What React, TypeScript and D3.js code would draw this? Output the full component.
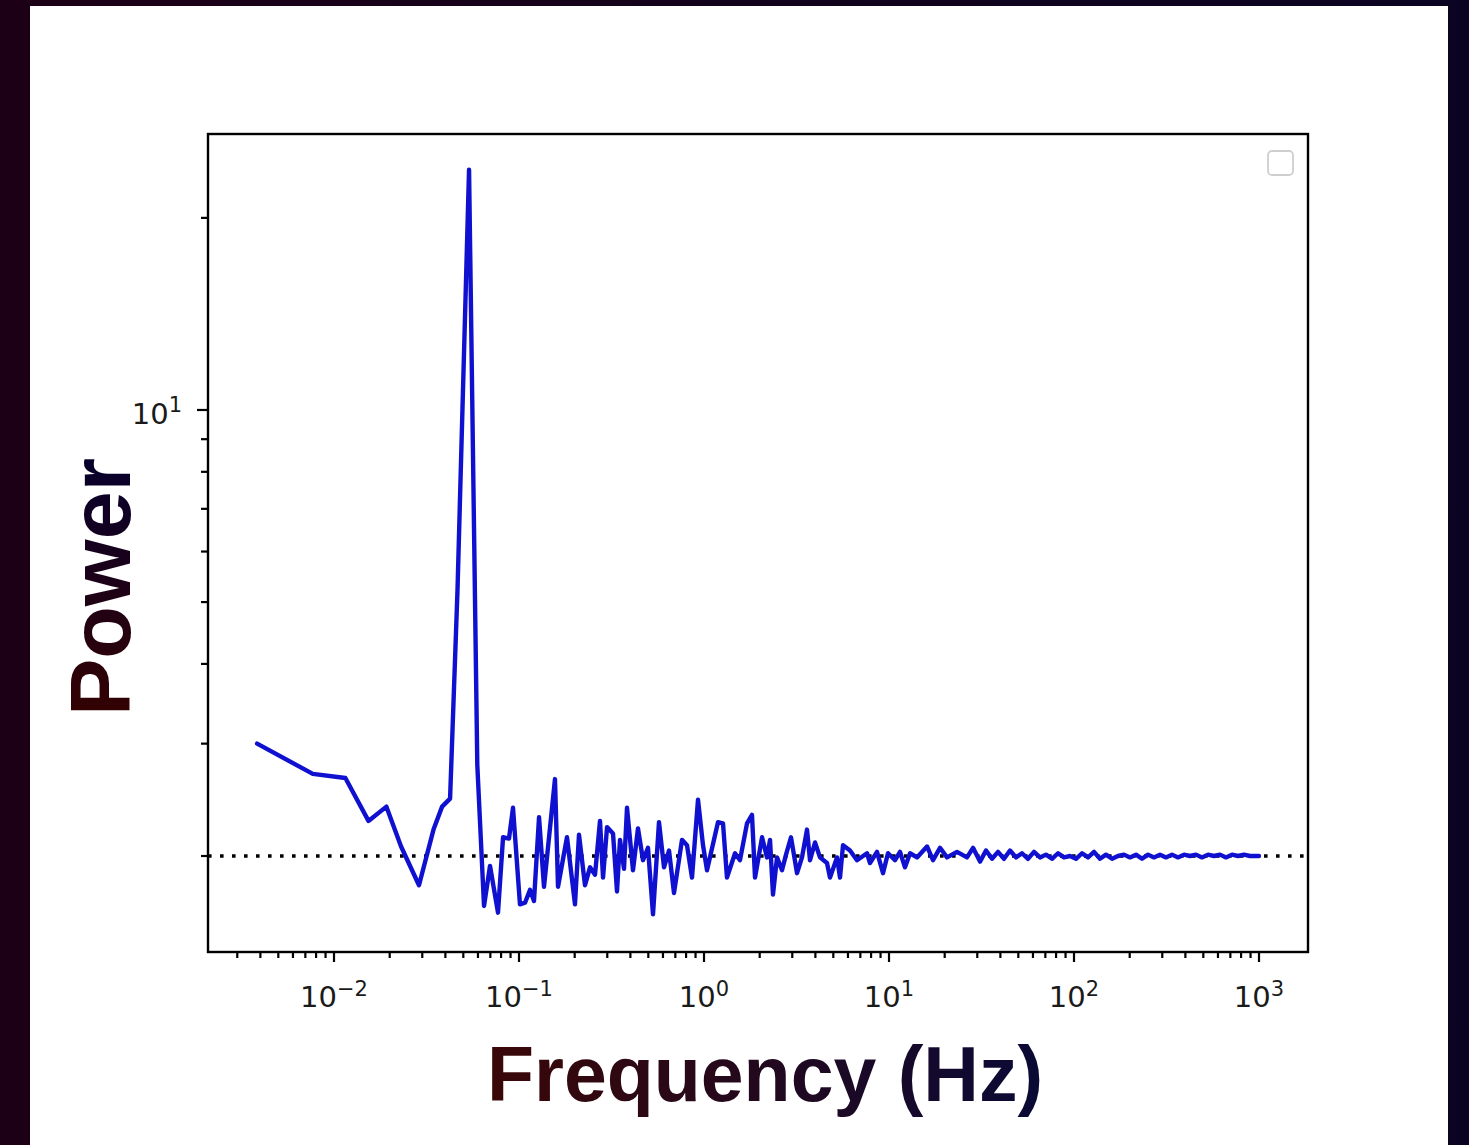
import React from "react";
import * as d3 from "d3";

// Frequencies (Hz) of the plotted power spectrum
const frequencyHz = [
  0.00384, 0.00768, 0.01152, 0.01536, 0.0192, 0.02304, 0.0288, 0.0345, 0.0384, 0.0424,
  0.0465, 0.0537, 0.0595, 0.0647, 0.0697, 0.077, 0.082, 0.0883, 0.0928, 0.1012,
  0.1078, 0.1147, 0.1205, 0.1283, 0.1365, 0.1565, 0.1625, 0.1817, 0.2007, 0.211,
  0.2274, 0.242, 0.2576, 0.274, 0.2846, 0.2991, 0.3222, 0.3386, 0.3515, 0.3694,
  0.3835, 0.4132, 0.4397, 0.468, 0.4981, 0.53, 0.5711, 0.6078, 0.6469, 0.6884,
  0.7604, 0.8092, 0.8612, 0.9281, 0.9876, 1.038, 1.19, 1.267, 1.331, 1.471,
  1.565, 1.708, 1.817, 1.887, 2.059, 2.191, 2.274, 2.36, 2.481, 2.64,
  2.775, 2.953, 3.183, 3.386, 3.604, 3.741, 3.981, 4.236, 4.622, 4.798,
  5.236, 5.435, 5.641, 6.155, 6.714, 7.604, 7.893, 8.612, 9.281, 9.876,
  10.78, 11.47, 12.2, 12.99, 14.17, 16.05, 17.29, 18.87, 20.59, 23.31,
  26.4, 28.46, 31.04, 33.44, 36.05, 38.84, 41.84, 45.1, 48.59, 52.36,
  56.41, 60.78, 65.49, 70.56, 76.04, 81.95, 88.3, 95.15, 102.5, 110.5,
  119.1, 128.3, 138.2, 148.9, 160.5, 172.9, 186.3, 200.7, 216.3, 233.1,
  251.2, 270.6, 291.6, 314.3, 338.6, 364.9, 393.2, 423.6, 456.5, 491.8,
  530.0, 571.1, 615.4, 663.1, 714.5, 769.9, 829.6, 894.0, 1000,
];

// Power at each frequency
const power = [
  3.0, 2.69, 2.65, 2.27, 2.39, 2.07, 1.8, 2.2, 2.39, 2.46,
  5.21, 23.8, 2.78, 1.67, 1.93, 1.63, 2.14, 2.13, 2.38, 1.68,
  1.69, 1.77, 1.7, 2.3, 1.79, 2.64, 1.79, 2.14, 1.68, 2.16,
  1.8, 1.92, 1.87, 2.27, 1.85, 2.22, 2.17, 1.76, 2.12, 1.91,
  2.38, 1.9, 2.21, 1.97, 2.06, 1.62, 2.26, 1.92, 2.04, 1.75,
  2.12, 2.08, 1.85, 2.45, 2.08, 1.9, 2.26, 2.25, 1.85, 2.02,
  1.97, 2.25, 2.32, 1.85, 2.14, 1.99, 2.12, 1.74, 1.99, 1.9,
  2.01, 2.14, 1.88, 1.99, 2.2, 1.97, 2.1, 1.99, 1.95, 1.85,
  1.99, 1.85, 2.08, 2.04, 1.97, 2.02, 1.95, 2.03, 1.88, 2.02,
  1.97, 2.03, 1.92, 2.02, 1.99, 2.07, 1.97, 2.06, 1.99, 2.03,
  1.99, 2.06, 1.96, 2.04, 1.98, 2.03, 1.98, 2.04, 1.99, 2.02,
  1.98, 2.03, 1.99, 2.01, 1.98, 2.02, 1.99, 2.0, 1.98, 2.02,
  1.99, 2.03, 1.98, 2.01, 1.98, 2.0, 2.01, 1.99, 2.01, 1.98,
  2.01, 1.99, 2.01, 1.99, 2.01, 1.99, 2.01, 2.0, 2.01, 1.99,
  2.01, 2.0, 2.01, 1.99, 2.01, 2.0, 2.01, 2.0, 2.0,
];

const meanPower = 2; // dotted reference level
const xMajorExponents = [-2, -1, 0, 1, 2, 3];
const yMajorExponents = [1];
const xLabel = "Frequency (Hz)";
const yLabel = "Power";

const W = 1469;
const H = 1145;

export default function App() {
  const plot = { left: 208, right: 1308, top: 134, bottom: 952 };
  const x = d3.scaleLog().domain([0.002084, 1840]).range([plot.left, plot.right]);
  const y = d3.scaleLog().domain([1.4145, 27.07]).range([plot.bottom, plot.top]);

  const data = frequencyHz.map((f, i) => ({ f, p: power[i] }));
  const line = d3
    .line<{ f: number; p: number }>()
    .x((d) => x(d.f))
    .y((d) => y(d.p));

  const isMajor = (v: number) => Math.abs(Math.log10(v) - Math.round(Math.log10(v))) < 1e-9;
  const xTicks = x.ticks().filter((v) => v >= x.domain()[0] && v <= x.domain()[1]);
  const yTicks = y.ticks().filter((v) => v >= y.domain()[0] && v <= y.domain()[1]);

  const tickFont = "'DejaVu Sans', sans-serif";

  return (
    <div style={{ width: W, height: H, overflow: "hidden" }}>
      <style>{"body{margin:0;overflow:hidden}"}</style>
      <svg width={W} height={H} style={{ display: "block" }}>
        <defs>
          <linearGradient id="bg" x1="0" y1="0" x2="1" y2="0">
            <stop offset="0" stopColor="#1c0016" />
            <stop offset="1" stopColor="#0a0422" />
          </linearGradient>
          <linearGradient id="xlab" gradientUnits="userSpaceOnUse" x1="488" y1="0" x2="1043" y2="0">
            <stop offset="0" stopColor="#3a0707" />
            <stop offset="1" stopColor="#0a0a36" />
          </linearGradient>
          <linearGradient id="ylab" gradientUnits="userSpaceOnUse" x1="-125" y1="0" x2="125" y2="0">
            <stop offset="0" stopColor="#330202" />
            <stop offset="1" stopColor="#07002c" />
          </linearGradient>
        </defs>
        <rect x={0} y={0} width={W} height={H} fill="url(#bg)" />
        <rect x={30} y={6} width={1418} height={H - 6} fill="#ffffff" />

        {/* mean level */}
        <line
          x1={plot.left}
          x2={plot.right}
          y1={y(meanPower)}
          y2={y(meanPower)}
          stroke="#000"
          strokeWidth={3.6}
          strokeDasharray="3.6 8.4"
        />

        {/* spectrum */}
        <path
          d={line(data) || ""}
          fill="none"
          stroke="#1010d0"
          strokeWidth={4.4}
          strokeLinejoin="round"
          strokeLinecap="round"
        />

        {/* frame */}
        <rect
          x={plot.left}
          y={plot.top}
          width={plot.right - plot.left}
          height={plot.bottom - plot.top}
          fill="none"
          stroke="#000"
          strokeWidth={2.4}
        />

        {/* empty legend */}
        <rect x={1268} y={151} width={25} height={24} rx={4} fill="#fff" stroke="#cfcfcf" strokeWidth={1.8} />

        {/* x ticks */}
        {xTicks.map((v, i) => (
          <line
            key={"xt" + i}
            x1={x(v)}
            x2={x(v)}
            y1={plot.bottom}
            y2={plot.bottom + (isMajor(v) ? 10 : 6)}
            stroke="#000"
            strokeWidth={2.2}
          />
        ))}
        {xMajorExponents.map((e) => (
          <text
            key={"xl" + e}
            x={x(Math.pow(10, e))}
            y={1007}
            textAnchor="middle"
            fontFamily={tickFont}
            fontSize={29}
            fill="#1a1a1a"
          >
            10
            <tspan fontSize={21} dy={-11}>
              {e < 0 ? "\u2212" + Math.abs(e) : String(e)}
            </tspan>
          </text>
        ))}

        {/* y ticks */}
        {yTicks.map((v, i) => (
          <line
            key={"yt" + i}
            x1={plot.left - (isMajor(v) ? 11 : 7)}
            x2={plot.left}
            y1={y(v)}
            y2={y(v)}
            stroke="#000"
            strokeWidth={2.2}
          />
        ))}
        {yMajorExponents.map((e) => (
          <text
            key={"yl" + e}
            x={182}
            y={y(Math.pow(10, e)) + 14}
            textAnchor="end"
            fontFamily={tickFont}
            fontSize={29}
            fill="#1a1a1a"
          >
            10
            <tspan fontSize={21} dy={-12}>
              {String(e)}
            </tspan>
          </text>
        ))}

        {/* axis labels */}
        <text
          x={765}
          y={1101}
          textAnchor="middle"
          fontFamily="'Liberation Sans', Arial, sans-serif"
          fontWeight="bold"
          fontSize={77}
          fill="url(#xlab)"
        >
          {xLabel}
        </text>
        <text
          transform="translate(130,587) rotate(-90)"
          textAnchor="middle"
          fontFamily="'Liberation Sans', Arial, sans-serif"
          fontWeight="bold"
          fontSize={86}
          fill="url(#ylab)"
        >
          {yLabel}
        </text>
      </svg>
    </div>
  );
}
